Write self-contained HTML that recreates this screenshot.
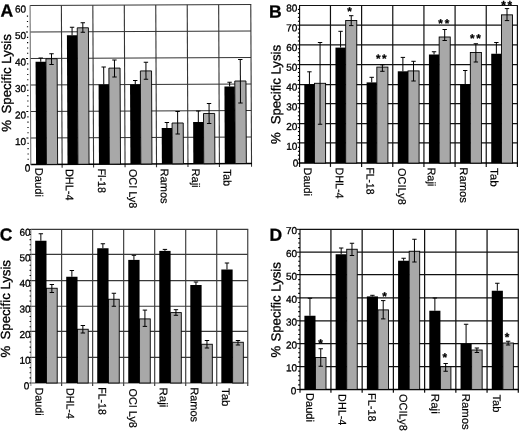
<!DOCTYPE html>
<html><head><meta charset="utf-8"><style>
html,body{margin:0;padding:0;background:#fff;width:520px;height:431px;overflow:hidden}
svg{display:block}
text{font-family:"Liberation Sans", Arial, Helvetica, sans-serif;text-rendering:geometricPrecision;stroke:#000;stroke-width:0.3px}
</style></head><body>
<svg width="520" height="431" viewBox="0 0 520 431">
<rect width="520" height="431" fill="#fff"/>
<g transform="rotate(-0.27 140 85)">
<g stroke="#333" stroke-width="1.1"><line x1="30.45" y1="137.5" x2="251.15" y2="137.5"/><line x1="30.45" y1="111.01" x2="251.15" y2="111.01"/><line x1="30.45" y1="84.51" x2="251.15" y2="84.51"/><line x1="30.45" y1="58.01" x2="251.15" y2="58.01"/><line x1="30.45" y1="31.52" x2="251.15" y2="31.52"/><line x1="61.76" y1="5.02" x2="61.76" y2="167.3"/><line x1="93.21" y1="5.02" x2="93.21" y2="167.3"/><line x1="124.67" y1="5.02" x2="124.67" y2="167.3"/><line x1="156.13" y1="5.02" x2="156.13" y2="167.3"/><line x1="187.59" y1="5.02" x2="187.59" y2="167.3"/><line x1="219.04" y1="5.02" x2="219.04" y2="167.3"/><line x1="30.45" y1="5.02" x2="251.65" y2="5.02"/><line x1="251.15" y1="5.02" x2="251.15" y2="167.3"/><line x1="30.45" y1="164" x2="251.65" y2="164" stroke="#000" stroke-width="1.5"/></g>
<line x1="30.45" y1="4.62" x2="30.45" y2="164.5" stroke="#666" stroke-width="1"/>
<g stroke="#000" stroke-width="1"><line x1="26.2" y1="164" x2="28.2" y2="164"/><line x1="26.2" y1="137.5" x2="28.2" y2="137.5"/><line x1="26.2" y1="111.01" x2="28.2" y2="111.01"/><line x1="26.2" y1="84.51" x2="28.2" y2="84.51"/><line x1="26.2" y1="58.01" x2="28.2" y2="58.01"/><line x1="26.2" y1="31.52" x2="28.2" y2="31.52"/></g>
<g stroke="#000" stroke-width="1.1"><line x1="27.2" y1="158.7" x2="28.4" y2="158.7"/><line x1="27.2" y1="153.4" x2="28.4" y2="153.4"/><line x1="27.2" y1="148.1" x2="28.4" y2="148.1"/><line x1="27.2" y1="142.8" x2="28.4" y2="142.8"/><line x1="27.2" y1="132.2" x2="28.4" y2="132.2"/><line x1="27.2" y1="126.9" x2="28.4" y2="126.9"/><line x1="27.2" y1="121.61" x2="28.4" y2="121.61"/><line x1="27.2" y1="116.31" x2="28.4" y2="116.31"/><line x1="27.2" y1="105.71" x2="28.4" y2="105.71"/><line x1="27.2" y1="100.41" x2="28.4" y2="100.41"/><line x1="27.2" y1="95.11" x2="28.4" y2="95.11"/><line x1="27.2" y1="89.81" x2="28.4" y2="89.81"/><line x1="27.2" y1="79.21" x2="28.4" y2="79.21"/><line x1="27.2" y1="73.91" x2="28.4" y2="73.91"/><line x1="27.2" y1="68.61" x2="28.4" y2="68.61"/><line x1="27.2" y1="63.31" x2="28.4" y2="63.31"/><line x1="27.2" y1="52.71" x2="28.4" y2="52.71"/><line x1="27.2" y1="47.41" x2="28.4" y2="47.41"/><line x1="27.2" y1="42.12" x2="28.4" y2="42.12"/><line x1="27.2" y1="36.82" x2="28.4" y2="36.82"/><line x1="27.2" y1="26.22" x2="28.4" y2="26.22"/><line x1="27.2" y1="20.92" x2="28.4" y2="20.92"/><line x1="27.2" y1="15.62" x2="28.4" y2="15.62"/></g>
<rect x="35.68" y="61.28" width="10.38" height="102.72" fill="#000"/><rect x="46.06" y="58.33" width="11.18" height="105.67" fill="#a8a8a8" stroke="#000" stroke-width="0.9"/><rect x="67.14" y="34.98" width="10.38" height="129.02" fill="#000"/><rect x="77.52" y="27.53" width="11.18" height="136.47" fill="#a8a8a8" stroke="#000" stroke-width="0.9"/><rect x="98.59" y="84.33" width="10.38" height="79.67" fill="#000"/><rect x="108.97" y="67.98" width="11.18" height="96.02" fill="#a8a8a8" stroke="#000" stroke-width="0.9"/><rect x="130.05" y="84.48" width="10.38" height="79.52" fill="#000"/><rect x="140.43" y="70.93" width="11.18" height="93.07" fill="#a8a8a8" stroke="#000" stroke-width="0.9"/><rect x="161.51" y="128.13" width="10.38" height="35.87" fill="#000"/><rect x="171.89" y="123.18" width="11.18" height="40.82" fill="#a8a8a8" stroke="#000" stroke-width="0.9"/><rect x="192.97" y="122.37" width="10.38" height="41.63" fill="#000"/><rect x="203.35" y="113.82" width="11.18" height="50.18" fill="#a8a8a8" stroke="#000" stroke-width="0.9"/><rect x="224.42" y="86.92" width="10.38" height="77.08" fill="#000"/><rect x="234.8" y="81.47" width="11.18" height="82.53" fill="#a8a8a8" stroke="#000" stroke-width="0.9"/>
<g stroke="#000" stroke-width="1"><line x1="40.87" y1="57.53" x2="40.87" y2="61.28"/><line x1="38.67" y1="57.53" x2="43.07" y2="57.53"/><line x1="51.65" y1="53.33" x2="51.65" y2="64.08"/><line x1="49.45" y1="53.33" x2="53.85" y2="53.33"/><line x1="49.45" y1="64.08" x2="53.85" y2="64.08"/><line x1="72.33" y1="26.98" x2="72.33" y2="34.98"/><line x1="70.13" y1="26.98" x2="74.53" y2="26.98"/><line x1="83.11" y1="22.53" x2="83.11" y2="32.03"/><line x1="80.91" y1="22.53" x2="85.31" y2="22.53"/><line x1="80.91" y1="32.03" x2="85.31" y2="32.03"/><line x1="103.78" y1="66.83" x2="103.78" y2="84.33"/><line x1="101.58" y1="66.83" x2="105.98" y2="66.83"/><line x1="114.56" y1="59.88" x2="114.56" y2="76.88"/><line x1="112.36" y1="59.88" x2="116.76" y2="59.88"/><line x1="112.36" y1="76.88" x2="116.76" y2="76.88"/><line x1="135.24" y1="80.48" x2="135.24" y2="84.48"/><line x1="133.04" y1="80.48" x2="137.44" y2="80.48"/><line x1="146.02" y1="62.23" x2="146.02" y2="79.33"/><line x1="143.82" y1="62.23" x2="148.22" y2="62.23"/><line x1="143.82" y1="79.33" x2="148.22" y2="79.33"/><line x1="166.7" y1="122.63" x2="166.7" y2="128.13"/><line x1="164.5" y1="122.63" x2="168.9" y2="122.63"/><line x1="177.48" y1="111.68" x2="177.48" y2="134.18"/><line x1="175.28" y1="111.68" x2="179.68" y2="111.68"/><line x1="175.28" y1="134.18" x2="179.68" y2="134.18"/><line x1="198.16" y1="111.27" x2="198.16" y2="122.37"/><line x1="195.96" y1="111.27" x2="200.36" y2="111.27"/><line x1="208.94" y1="103.92" x2="208.94" y2="123.92"/><line x1="206.74" y1="103.92" x2="211.14" y2="103.92"/><line x1="206.74" y1="123.92" x2="211.14" y2="123.92"/><line x1="229.61" y1="82.62" x2="229.61" y2="86.92"/><line x1="227.41" y1="82.62" x2="231.81" y2="82.62"/><line x1="240.39" y1="60.07" x2="240.39" y2="103.37"/><line x1="238.19" y1="60.07" x2="242.59" y2="60.07"/><line x1="238.19" y1="103.37" x2="242.59" y2="103.37"/></g>
</g>
<g stroke="#111" stroke-width="1.2"><line x1="299.6" y1="142.8" x2="517.4" y2="142.8"/><line x1="299.6" y1="123.7" x2="517.4" y2="123.7"/><line x1="299.6" y1="103.6" x2="517.4" y2="103.6"/><line x1="299.6" y1="84.6" x2="517.4" y2="84.6"/><line x1="299.6" y1="64.6" x2="517.4" y2="64.6"/><line x1="299.6" y1="44.9" x2="517.4" y2="44.9"/><line x1="299.6" y1="25.2" x2="517.4" y2="25.2"/><line x1="330.46" y1="5.5" x2="330.46" y2="166.9"/><line x1="361.61" y1="5.5" x2="361.61" y2="166.9"/><line x1="392.77" y1="5.5" x2="392.77" y2="166.9"/><line x1="423.93" y1="5.5" x2="423.93" y2="166.9"/><line x1="455.09" y1="5.5" x2="455.09" y2="166.9"/><line x1="486.24" y1="5.5" x2="486.24" y2="166.9"/><line x1="299.6" y1="5.5" x2="517.9" y2="5.5"/><line x1="517.4" y1="5.5" x2="517.4" y2="166.9"/><line x1="299.6" y1="163.1" x2="517.9" y2="163.1" stroke="#000" stroke-width="1.5"/></g>
<line x1="299.6" y1="5.1" x2="299.6" y2="166.9" stroke="#000" stroke-width="1.1"/>
<g stroke="#000" stroke-width="1"><line x1="297.3" y1="163.1" x2="299.5" y2="163.1"/><line x1="297.3" y1="142.8" x2="299.5" y2="142.8"/><line x1="297.3" y1="123.7" x2="299.5" y2="123.7"/><line x1="297.3" y1="103.6" x2="299.5" y2="103.6"/><line x1="297.3" y1="84.6" x2="299.5" y2="84.6"/><line x1="297.3" y1="64.6" x2="299.5" y2="64.6"/><line x1="297.3" y1="44.9" x2="299.5" y2="44.9"/><line x1="297.3" y1="25.2" x2="299.5" y2="25.2"/></g>
<g stroke="#000" stroke-width="1.1"><line x1="297.9" y1="159.16" x2="299.5" y2="159.16"/><line x1="297.9" y1="155.22" x2="299.5" y2="155.22"/><line x1="297.9" y1="151.28" x2="299.5" y2="151.28"/><line x1="297.9" y1="147.34" x2="299.5" y2="147.34"/><line x1="297.9" y1="139.46" x2="299.5" y2="139.46"/><line x1="297.9" y1="135.52" x2="299.5" y2="135.52"/><line x1="297.9" y1="131.58" x2="299.5" y2="131.58"/><line x1="297.9" y1="127.64" x2="299.5" y2="127.64"/><line x1="297.9" y1="119.76" x2="299.5" y2="119.76"/><line x1="297.9" y1="115.82" x2="299.5" y2="115.82"/><line x1="297.9" y1="111.88" x2="299.5" y2="111.88"/><line x1="297.9" y1="107.94" x2="299.5" y2="107.94"/><line x1="297.9" y1="100.06" x2="299.5" y2="100.06"/><line x1="297.9" y1="96.12" x2="299.5" y2="96.12"/><line x1="297.9" y1="92.18" x2="299.5" y2="92.18"/><line x1="297.9" y1="88.24" x2="299.5" y2="88.24"/><line x1="297.9" y1="80.36" x2="299.5" y2="80.36"/><line x1="297.9" y1="76.42" x2="299.5" y2="76.42"/><line x1="297.9" y1="72.48" x2="299.5" y2="72.48"/><line x1="297.9" y1="68.54" x2="299.5" y2="68.54"/><line x1="297.9" y1="60.66" x2="299.5" y2="60.66"/><line x1="297.9" y1="56.72" x2="299.5" y2="56.72"/><line x1="297.9" y1="52.78" x2="299.5" y2="52.78"/><line x1="297.9" y1="48.84" x2="299.5" y2="48.84"/><line x1="297.9" y1="40.96" x2="299.5" y2="40.96"/><line x1="297.9" y1="37.02" x2="299.5" y2="37.02"/><line x1="297.9" y1="33.08" x2="299.5" y2="33.08"/><line x1="297.9" y1="29.14" x2="299.5" y2="29.14"/><line x1="297.9" y1="21.26" x2="299.5" y2="21.26"/><line x1="297.9" y1="17.32" x2="299.5" y2="17.32"/><line x1="297.9" y1="13.38" x2="299.5" y2="13.38"/><line x1="297.9" y1="9.44" x2="299.5" y2="9.44"/></g>
<rect x="304.3" y="84.3" width="10.23" height="78.8" fill="#000"/><rect x="314.53" y="83.3" width="11.08" height="79.8" fill="#a8a8a8" stroke="#000" stroke-width="0.9"/><rect x="335.46" y="47.6" width="10.23" height="115.5" fill="#000"/><rect x="345.69" y="20.5" width="11.08" height="142.6" fill="#a8a8a8" stroke="#000" stroke-width="0.9"/><rect x="366.61" y="82.4" width="10.23" height="80.7" fill="#000"/><rect x="376.84" y="67.1" width="11.08" height="96" fill="#a8a8a8" stroke="#000" stroke-width="0.9"/><rect x="397.77" y="71.3" width="10.23" height="91.8" fill="#000"/><rect x="408" y="70.9" width="11.08" height="92.2" fill="#a8a8a8" stroke="#000" stroke-width="0.9"/><rect x="428.93" y="54.5" width="10.23" height="108.6" fill="#000"/><rect x="439.16" y="37" width="11.08" height="126.1" fill="#a8a8a8" stroke="#000" stroke-width="0.9"/><rect x="460.09" y="84.25" width="10.23" height="78.85" fill="#000"/><rect x="470.32" y="52.5" width="11.08" height="110.6" fill="#a8a8a8" stroke="#000" stroke-width="0.9"/><rect x="491.24" y="53.75" width="10.23" height="109.35" fill="#000"/><rect x="501.47" y="14.85" width="11.08" height="148.25" fill="#a8a8a8" stroke="#000" stroke-width="0.9"/>
<g stroke="#000" stroke-width="1"><line x1="309.42" y1="71.8" x2="309.42" y2="84.3"/><line x1="307.22" y1="71.8" x2="311.62" y2="71.8"/><line x1="320.07" y1="42.5" x2="320.07" y2="124.25"/><line x1="317.87" y1="42.5" x2="322.27" y2="42.5"/><line x1="317.87" y1="124.25" x2="322.27" y2="124.25"/><line x1="340.57" y1="31.3" x2="340.57" y2="47.6"/><line x1="338.37" y1="31.3" x2="342.77" y2="31.3"/><line x1="351.23" y1="15.7" x2="351.23" y2="25.6"/><line x1="349.03" y1="15.7" x2="353.43" y2="15.7"/><line x1="349.03" y1="25.6" x2="353.43" y2="25.6"/><line x1="371.73" y1="77.3" x2="371.73" y2="82.4"/><line x1="369.53" y1="77.3" x2="373.93" y2="77.3"/><line x1="382.38" y1="64.8" x2="382.38" y2="71.3"/><line x1="380.18" y1="64.8" x2="384.58" y2="64.8"/><line x1="380.18" y1="71.3" x2="384.58" y2="71.3"/><line x1="402.89" y1="57.4" x2="402.89" y2="71.3"/><line x1="400.69" y1="57.4" x2="405.09" y2="57.4"/><line x1="413.54" y1="61.3" x2="413.54" y2="81"/><line x1="411.34" y1="61.3" x2="415.74" y2="61.3"/><line x1="411.34" y1="81" x2="415.74" y2="81"/><line x1="434.04" y1="51.75" x2="434.04" y2="54.5"/><line x1="431.84" y1="51.75" x2="436.24" y2="51.75"/><line x1="444.7" y1="29.5" x2="444.7" y2="40.5"/><line x1="442.5" y1="29.5" x2="446.9" y2="29.5"/><line x1="442.5" y1="40.5" x2="446.9" y2="40.5"/><line x1="465.2" y1="70.5" x2="465.2" y2="84.25"/><line x1="463" y1="70.5" x2="467.4" y2="70.5"/><line x1="475.86" y1="43.75" x2="475.86" y2="62"/><line x1="473.66" y1="43.75" x2="478.06" y2="43.75"/><line x1="473.66" y1="62" x2="478.06" y2="62"/><line x1="496.36" y1="42.5" x2="496.36" y2="53.75"/><line x1="494.16" y1="42.5" x2="498.56" y2="42.5"/><line x1="507.01" y1="8.6" x2="507.01" y2="20.6"/><line x1="504.81" y1="8.6" x2="509.21" y2="8.6"/><line x1="504.81" y1="20.6" x2="509.21" y2="20.6"/></g>
<g stroke="#3a3a3a" stroke-width="1.15"><line x1="30.9" y1="357.4" x2="247.75" y2="357.4"/><line x1="30.9" y1="331.3" x2="247.75" y2="331.3"/><line x1="30.9" y1="306.2" x2="247.75" y2="306.2"/><line x1="30.9" y1="280.6" x2="247.75" y2="280.6"/><line x1="30.9" y1="254.4" x2="247.75" y2="254.4"/><line x1="61.62" y1="229.4" x2="61.62" y2="386"/><line x1="92.64" y1="229.4" x2="92.64" y2="386"/><line x1="123.66" y1="229.4" x2="123.66" y2="386"/><line x1="154.69" y1="229.4" x2="154.69" y2="386"/><line x1="185.71" y1="229.4" x2="185.71" y2="386"/><line x1="216.73" y1="229.4" x2="216.73" y2="386"/><line x1="30.9" y1="229.4" x2="248.25" y2="229.4"/><line x1="247.75" y1="229.4" x2="247.75" y2="386"/><line x1="30.9" y1="383" x2="248.25" y2="383" stroke="#444" stroke-width="1.2"/></g>
<line x1="30.9" y1="229" x2="30.9" y2="386" stroke="#888" stroke-width="1"/>
<g stroke="#000" stroke-width="1"><line x1="29.4" y1="383" x2="30.9" y2="383"/><line x1="29.4" y1="357.4" x2="30.9" y2="357.4"/><line x1="29.4" y1="331.3" x2="30.9" y2="331.3"/><line x1="29.4" y1="306.2" x2="30.9" y2="306.2"/><line x1="29.4" y1="280.6" x2="30.9" y2="280.6"/><line x1="29.4" y1="254.4" x2="30.9" y2="254.4"/><line x1="29.4" y1="229.4" x2="30.9" y2="229.4"/></g>
<g stroke="#000" stroke-width="1.1"><line x1="29.6" y1="377.88" x2="30.9" y2="377.88"/><line x1="29.6" y1="372.76" x2="30.9" y2="372.76"/><line x1="29.6" y1="367.64" x2="30.9" y2="367.64"/><line x1="29.6" y1="362.52" x2="30.9" y2="362.52"/><line x1="29.6" y1="352.28" x2="30.9" y2="352.28"/><line x1="29.6" y1="347.16" x2="30.9" y2="347.16"/><line x1="29.6" y1="342.04" x2="30.9" y2="342.04"/><line x1="29.6" y1="336.92" x2="30.9" y2="336.92"/><line x1="29.6" y1="326.68" x2="30.9" y2="326.68"/><line x1="29.6" y1="321.56" x2="30.9" y2="321.56"/><line x1="29.6" y1="316.44" x2="30.9" y2="316.44"/><line x1="29.6" y1="311.32" x2="30.9" y2="311.32"/><line x1="29.6" y1="301.08" x2="30.9" y2="301.08"/><line x1="29.6" y1="295.96" x2="30.9" y2="295.96"/><line x1="29.6" y1="290.84" x2="30.9" y2="290.84"/><line x1="29.6" y1="285.72" x2="30.9" y2="285.72"/><line x1="29.6" y1="275.48" x2="30.9" y2="275.48"/><line x1="29.6" y1="270.36" x2="30.9" y2="270.36"/><line x1="29.6" y1="265.24" x2="30.9" y2="265.24"/><line x1="29.6" y1="260.12" x2="30.9" y2="260.12"/><line x1="29.6" y1="249.88" x2="30.9" y2="249.88"/><line x1="29.6" y1="244.76" x2="30.9" y2="244.76"/><line x1="29.6" y1="239.64" x2="30.9" y2="239.64"/><line x1="29.6" y1="234.52" x2="30.9" y2="234.52"/></g>
<rect x="35.2" y="240.75" width="11.3" height="142.25" fill="#000"/><rect x="46.5" y="288.25" width="10.7" height="94.75" fill="#a8a8a8" stroke="#000" stroke-width="0.9"/><rect x="66.22" y="276.75" width="11.3" height="106.25" fill="#000"/><rect x="77.52" y="329.25" width="10.7" height="53.75" fill="#a8a8a8" stroke="#000" stroke-width="0.9"/><rect x="97.24" y="248.25" width="11.3" height="134.75" fill="#000"/><rect x="108.54" y="299.25" width="10.7" height="83.75" fill="#a8a8a8" stroke="#000" stroke-width="0.9"/><rect x="128.26" y="259.9" width="11.3" height="123.1" fill="#000"/><rect x="139.56" y="318.9" width="10.7" height="64.1" fill="#a8a8a8" stroke="#000" stroke-width="0.9"/><rect x="159.29" y="250.9" width="11.3" height="132.1" fill="#000"/><rect x="170.59" y="312.6" width="10.7" height="70.4" fill="#a8a8a8" stroke="#000" stroke-width="0.9"/><rect x="190.31" y="285" width="11.3" height="98" fill="#000"/><rect x="201.61" y="344.25" width="10.7" height="38.75" fill="#a8a8a8" stroke="#000" stroke-width="0.9"/><rect x="221.33" y="269.5" width="11.3" height="113.5" fill="#000"/><rect x="232.63" y="342.25" width="10.7" height="40.75" fill="#a8a8a8" stroke="#000" stroke-width="0.9"/>
<g stroke="#000" stroke-width="1"><line x1="40.85" y1="233.75" x2="40.85" y2="240.75"/><line x1="38.65" y1="233.75" x2="43.05" y2="233.75"/><line x1="51.85" y1="284.5" x2="51.85" y2="292.5"/><line x1="49.65" y1="284.5" x2="54.05" y2="284.5"/><line x1="49.65" y1="292.5" x2="54.05" y2="292.5"/><line x1="71.87" y1="270.5" x2="71.87" y2="276.75"/><line x1="69.67" y1="270.5" x2="74.07" y2="270.5"/><line x1="82.87" y1="325.5" x2="82.87" y2="333"/><line x1="80.67" y1="325.5" x2="85.07" y2="325.5"/><line x1="80.67" y1="333" x2="85.07" y2="333"/><line x1="102.89" y1="243.75" x2="102.89" y2="248.25"/><line x1="100.69" y1="243.75" x2="105.09" y2="243.75"/><line x1="113.89" y1="293.25" x2="113.89" y2="306.25"/><line x1="111.69" y1="293.25" x2="116.09" y2="293.25"/><line x1="111.69" y1="306.25" x2="116.09" y2="306.25"/><line x1="133.91" y1="255.3" x2="133.91" y2="259.9"/><line x1="131.71" y1="255.3" x2="136.11" y2="255.3"/><line x1="144.91" y1="310.1" x2="144.91" y2="326.4"/><line x1="142.71" y1="310.1" x2="147.11" y2="310.1"/><line x1="142.71" y1="326.4" x2="147.11" y2="326.4"/><line x1="164.94" y1="249.4" x2="164.94" y2="250.9"/><line x1="162.74" y1="249.4" x2="167.14" y2="249.4"/><line x1="175.94" y1="309.7" x2="175.94" y2="315.3"/><line x1="173.74" y1="309.7" x2="178.14" y2="309.7"/><line x1="173.74" y1="315.3" x2="178.14" y2="315.3"/><line x1="195.96" y1="282" x2="195.96" y2="285"/><line x1="193.76" y1="282" x2="198.16" y2="282"/><line x1="206.96" y1="340.5" x2="206.96" y2="348"/><line x1="204.76" y1="340.5" x2="209.16" y2="340.5"/><line x1="204.76" y1="348" x2="209.16" y2="348"/><line x1="226.98" y1="263" x2="226.98" y2="269.5"/><line x1="224.78" y1="263" x2="229.18" y2="263"/><line x1="237.98" y1="340.5" x2="237.98" y2="345"/><line x1="235.78" y1="340.5" x2="240.18" y2="340.5"/><line x1="235.78" y1="345" x2="240.18" y2="345"/></g>
<g stroke="#111" stroke-width="1.25"><line x1="300" y1="366.53" x2="518.3" y2="366.53"/><line x1="300" y1="343.66" x2="518.3" y2="343.66"/><line x1="300" y1="320.79" x2="518.3" y2="320.79"/><line x1="300" y1="297.91" x2="518.3" y2="297.91"/><line x1="300" y1="274.6" x2="518.3" y2="274.6"/><line x1="300" y1="252.17" x2="518.3" y2="252.17"/><line x1="330.93" y1="229.3" x2="330.93" y2="392.7"/><line x1="362.16" y1="229.3" x2="362.16" y2="392.7"/><line x1="393.39" y1="229.3" x2="393.39" y2="392.7"/><line x1="424.61" y1="229.3" x2="424.61" y2="392.7"/><line x1="455.84" y1="229.3" x2="455.84" y2="392.7"/><line x1="487.07" y1="229.3" x2="487.07" y2="392.7"/><line x1="300" y1="229.3" x2="518.8" y2="229.3"/><line x1="518.3" y1="229.3" x2="518.3" y2="392.7"/><line x1="300" y1="389.4" x2="518.8" y2="389.4" stroke="#000" stroke-width="1.5"/></g>
<line x1="300" y1="228.9" x2="300" y2="392.7" stroke="#000" stroke-width="1.1"/>
<g stroke="#000" stroke-width="1"><line x1="296.6" y1="389.4" x2="300" y2="389.4"/><line x1="296.6" y1="366.53" x2="300" y2="366.53"/><line x1="296.6" y1="343.66" x2="300" y2="343.66"/><line x1="296.6" y1="320.79" x2="300" y2="320.79"/><line x1="296.6" y1="297.91" x2="300" y2="297.91"/><line x1="296.6" y1="274.6" x2="300" y2="274.6"/><line x1="296.6" y1="252.17" x2="300" y2="252.17"/><line x1="296.6" y1="229.3" x2="300" y2="229.3"/></g>
<g stroke="#000" stroke-width="1.1"><line x1="298.2" y1="384.83" x2="300" y2="384.83"/><line x1="298.2" y1="380.25" x2="300" y2="380.25"/><line x1="298.2" y1="375.68" x2="300" y2="375.68"/><line x1="298.2" y1="371.1" x2="300" y2="371.1"/><line x1="298.2" y1="361.95" x2="300" y2="361.95"/><line x1="298.2" y1="357.38" x2="300" y2="357.38"/><line x1="298.2" y1="352.81" x2="300" y2="352.81"/><line x1="298.2" y1="348.23" x2="300" y2="348.23"/><line x1="298.2" y1="339.08" x2="300" y2="339.08"/><line x1="298.2" y1="334.51" x2="300" y2="334.51"/><line x1="298.2" y1="329.93" x2="300" y2="329.93"/><line x1="298.2" y1="325.36" x2="300" y2="325.36"/><line x1="298.2" y1="316.21" x2="300" y2="316.21"/><line x1="298.2" y1="311.64" x2="300" y2="311.64"/><line x1="298.2" y1="307.06" x2="300" y2="307.06"/><line x1="298.2" y1="302.49" x2="300" y2="302.49"/><line x1="298.2" y1="293.34" x2="300" y2="293.34"/><line x1="298.2" y1="288.77" x2="300" y2="288.77"/><line x1="298.2" y1="284.19" x2="300" y2="284.19"/><line x1="298.2" y1="279.62" x2="300" y2="279.62"/><line x1="298.2" y1="270.47" x2="300" y2="270.47"/><line x1="298.2" y1="265.89" x2="300" y2="265.89"/><line x1="298.2" y1="261.32" x2="300" y2="261.32"/><line x1="298.2" y1="256.75" x2="300" y2="256.75"/><line x1="298.2" y1="247.6" x2="300" y2="247.6"/><line x1="298.2" y1="243.02" x2="300" y2="243.02"/><line x1="298.2" y1="238.45" x2="300" y2="238.45"/><line x1="298.2" y1="233.87" x2="300" y2="233.87"/></g>
<rect x="304.4" y="315.75" width="11.1" height="73.65" fill="#000"/><rect x="315.5" y="357.5" width="10.5" height="31.9" fill="#a8a8a8" stroke="#000" stroke-width="0.9"/><rect x="335.63" y="254.25" width="11.1" height="135.15" fill="#000"/><rect x="346.73" y="249.25" width="10.5" height="140.15" fill="#a8a8a8" stroke="#000" stroke-width="0.9"/><rect x="366.86" y="296.4" width="11.1" height="93" fill="#000"/><rect x="377.96" y="309.9" width="10.5" height="79.5" fill="#a8a8a8" stroke="#000" stroke-width="0.9"/><rect x="398.09" y="260.75" width="11.1" height="128.65" fill="#000"/><rect x="409.19" y="251.25" width="10.5" height="138.15" fill="#a8a8a8" stroke="#000" stroke-width="0.9"/><rect x="429.31" y="310.75" width="11.1" height="78.65" fill="#000"/><rect x="440.41" y="366.75" width="10.5" height="22.65" fill="#a8a8a8" stroke="#000" stroke-width="0.9"/><rect x="460.54" y="343.75" width="11.1" height="45.65" fill="#000"/><rect x="471.64" y="350" width="10.5" height="39.4" fill="#a8a8a8" stroke="#000" stroke-width="0.9"/><rect x="491.77" y="290.75" width="11.1" height="98.65" fill="#000"/><rect x="502.87" y="343" width="10.5" height="46.4" fill="#a8a8a8" stroke="#000" stroke-width="0.9"/>
<g stroke="#000" stroke-width="1"><line x1="309.95" y1="298.25" x2="309.95" y2="315.75"/><line x1="307.75" y1="298.25" x2="312.15" y2="298.25"/><line x1="320.75" y1="348.75" x2="320.75" y2="366.25"/><line x1="318.55" y1="348.75" x2="322.95" y2="348.75"/><line x1="318.55" y1="366.25" x2="322.95" y2="366.25"/><line x1="341.18" y1="248" x2="341.18" y2="254.25"/><line x1="338.98" y1="248" x2="343.38" y2="248"/><line x1="351.98" y1="243.25" x2="351.98" y2="255.5"/><line x1="349.78" y1="243.25" x2="354.18" y2="243.25"/><line x1="349.78" y1="255.5" x2="354.18" y2="255.5"/><line x1="372.41" y1="295.3" x2="372.41" y2="296.4"/><line x1="370.21" y1="295.3" x2="374.61" y2="295.3"/><line x1="383.21" y1="300.6" x2="383.21" y2="318.9"/><line x1="381.01" y1="300.6" x2="385.41" y2="300.6"/><line x1="381.01" y1="318.9" x2="385.41" y2="318.9"/><line x1="403.64" y1="258.25" x2="403.64" y2="260.75"/><line x1="401.44" y1="258.25" x2="405.84" y2="258.25"/><line x1="414.44" y1="239.25" x2="414.44" y2="262"/><line x1="412.24" y1="239.25" x2="416.64" y2="239.25"/><line x1="412.24" y1="262" x2="416.64" y2="262"/><line x1="434.86" y1="298" x2="434.86" y2="310.75"/><line x1="432.66" y1="298" x2="437.06" y2="298"/><line x1="445.66" y1="363.5" x2="445.66" y2="371.25"/><line x1="443.46" y1="363.5" x2="447.86" y2="363.5"/><line x1="443.46" y1="371.25" x2="447.86" y2="371.25"/><line x1="466.09" y1="324.25" x2="466.09" y2="343.75"/><line x1="463.89" y1="324.25" x2="468.29" y2="324.25"/><line x1="476.89" y1="348" x2="476.89" y2="352.5"/><line x1="474.69" y1="348" x2="479.09" y2="348"/><line x1="474.69" y1="352.5" x2="479.09" y2="352.5"/><line x1="497.32" y1="283.25" x2="497.32" y2="290.75"/><line x1="495.12" y1="283.25" x2="499.52" y2="283.25"/><line x1="508.12" y1="341.25" x2="508.12" y2="345"/><line x1="505.92" y1="341.25" x2="510.32" y2="341.25"/><line x1="505.92" y1="345" x2="510.32" y2="345"/></g>
<text transform="translate(14.88,144.95) rotate(0.05)" font-size="10" font-weight="normal" fill="#000">10</text>
<text transform="translate(14.88,118.44) rotate(0.05)" font-size="10" font-weight="normal" fill="#000">20</text>
<text transform="translate(14.88,91.93) rotate(0.05)" font-size="10" font-weight="normal" fill="#000">30</text>
<text transform="translate(14.88,65.42) rotate(0.05)" font-size="10" font-weight="normal" fill="#000">40</text>
<text transform="translate(14.88,38.91) rotate(0.05)" font-size="10" font-weight="normal" fill="#000">50</text>
<text transform="translate(14.88,12.4) rotate(0.05)" font-size="10" font-weight="normal" fill="#000">60</text>
<text transform="translate(24.76,171.59) rotate(0.05)" font-size="10" font-weight="normal" fill="#000">0</text>
<text transform="translate(286.17,149.84) rotate(0.05)" font-size="10" font-weight="normal" fill="#000">10</text>
<text transform="translate(286.17,130.09) rotate(0.05)" font-size="10" font-weight="normal" fill="#000">20</text>
<text transform="translate(286.17,110.34) rotate(0.05)" font-size="10" font-weight="normal" fill="#000">30</text>
<text transform="translate(286.17,90.59) rotate(0.05)" font-size="10" font-weight="normal" fill="#000">40</text>
<text transform="translate(286.17,70.84) rotate(0.05)" font-size="10" font-weight="normal" fill="#000">50</text>
<text transform="translate(286.17,51.09) rotate(0.05)" font-size="10" font-weight="normal" fill="#000">60</text>
<text transform="translate(286.17,31.34) rotate(0.05)" font-size="10" font-weight="normal" fill="#000">70</text>
<text transform="translate(286.18,11.59) rotate(0.05)" font-size="10" font-weight="normal" fill="#000">80</text>
<text transform="translate(292.86,166.44) rotate(0.05)" font-size="10" font-weight="normal" fill="#000">0</text>
<text transform="translate(19.47,363.64) rotate(0.05)" font-size="10" font-weight="normal" fill="#000">10</text>
<text transform="translate(19.47,338.04) rotate(0.05)" font-size="10" font-weight="normal" fill="#000">20</text>
<text transform="translate(19.47,312.44) rotate(0.05)" font-size="10" font-weight="normal" fill="#000">30</text>
<text transform="translate(19.48,286.84) rotate(0.05)" font-size="10" font-weight="normal" fill="#000">40</text>
<text transform="translate(19.48,261.24) rotate(0.05)" font-size="10" font-weight="normal" fill="#000">50</text>
<text transform="translate(19.47,235.64) rotate(0.05)" font-size="10" font-weight="normal" fill="#000">60</text>
<text transform="translate(23.71,389.29) rotate(0.05)" font-size="10" font-weight="normal" fill="#000">0</text>
<text transform="translate(285.88,371.27) rotate(0.05)" font-size="10" font-weight="normal" fill="#000">10</text>
<text transform="translate(285.88,348.39) rotate(0.05)" font-size="10" font-weight="normal" fill="#000">20</text>
<text transform="translate(285.88,325.52) rotate(0.05)" font-size="10" font-weight="normal" fill="#000">30</text>
<text transform="translate(285.88,302.65) rotate(0.05)" font-size="10" font-weight="normal" fill="#000">40</text>
<text transform="translate(285.88,279.78) rotate(0.05)" font-size="10" font-weight="normal" fill="#000">50</text>
<text transform="translate(285.88,256.91) rotate(0.05)" font-size="10" font-weight="normal" fill="#000">60</text>
<text transform="translate(285.88,234.04) rotate(0.05)" font-size="10" font-weight="normal" fill="#000">70</text>
<text transform="translate(290.76,394.24) rotate(0.05)" font-size="10" font-weight="normal" fill="#000">0</text>
<text transform="translate(0.5,16.62) rotate(0.05)" font-size="17.5" font-weight="bold" fill="#000">A</text>
<text transform="translate(269.08,17.52) rotate(0.05)" font-size="17.5" font-weight="bold" fill="#000">B</text>
<text transform="translate(-0.18,240.52) rotate(0.05)" font-size="17.5" font-weight="bold" fill="#000">C</text>
<text transform="translate(269.41,240.67) rotate(0.05)" font-size="17.5" font-weight="bold" fill="#000">D</text>
<text transform="translate(10.92,113.5) rotate(-89.95)" font-size="13.2" font-weight="normal" fill="#000">Specific Lysis</text>
<text transform="translate(10.9,131.81) rotate(-89.95)" font-size="13.2" font-weight="normal" fill="#000">%</text>
<text transform="translate(280.37,124.35) rotate(-89.95)" font-size="13.2" font-weight="normal" fill="#000">Specific Lysis</text>
<text transform="translate(280.25,144.11) rotate(-89.95)" font-size="13.2" font-weight="normal" fill="#000">%</text>
<text transform="translate(10.07,339.45) rotate(-89.95)" font-size="13.2" font-weight="normal" fill="#000">Specific Lysis</text>
<text transform="translate(10.05,357.46) rotate(-89.95)" font-size="13.2" font-weight="normal" fill="#000">%</text>
<text transform="translate(280.52,341.55) rotate(-89.95)" font-size="13.2" font-weight="normal" fill="#000">Specific Lysis</text>
<text transform="translate(280.2,357.46) rotate(-89.95)" font-size="13.2" font-weight="normal" fill="#000">%</text>
<text transform="translate(35.2,167.68) rotate(90.05) scale(1.019,1)" font-size="11" style="stroke-width:0.2px">Daudi</text>
<text transform="translate(65.8,168.9) rotate(90.05) scale(0.995,1)" font-size="11" style="stroke-width:0.2px">DHL-4</text>
<text transform="translate(97.9,168.51) rotate(90.05) scale(0.976,1)" font-size="11" style="stroke-width:0.2px">Fl-18</text>
<text transform="translate(129.3,168.88) rotate(90.05) scale(0.986,1)" font-size="11" style="stroke-width:0.2px">OCI Ly8</text>
<text transform="translate(160.8,168.48) rotate(90.05) scale(1.010,1)" font-size="11" style="stroke-width:0.2px">Ramos</text>
<text transform="translate(191.9,168.49) rotate(90.05) scale(1.006,1)" font-size="11" style="stroke-width:0.2px">Raji</text>
<text transform="translate(223.5,169.17) rotate(90.05) scale(0.946,1)" font-size="11" style="stroke-width:0.2px">Tab</text>
<text transform="translate(304,167.5) rotate(90.05) scale(0.993,1)" font-size="11" style="stroke-width:0.2px">Daudi</text>
<text transform="translate(335.8,167.51) rotate(90.05) scale(0.975,1)" font-size="11" style="stroke-width:0.2px">DHL-4</text>
<text transform="translate(366.5,167.45) rotate(90.05) scale(0.940,1)" font-size="11" style="stroke-width:0.2px">FL-18</text>
<text transform="translate(398.3,168.08) rotate(90.05) scale(0.995,1)" font-size="11" style="stroke-width:0.2px">OCILy8</text>
<text transform="translate(427.7,167.4) rotate(90.05) scale(0.994,1)" font-size="11" style="stroke-width:0.2px">Raji</text>
<text transform="translate(460,167.37) rotate(90.05) scale(1.019,1)" font-size="11" style="stroke-width:0.2px">Ramos</text>
<text transform="translate(490.5,168.04) rotate(90.05) scale(1.057,1)" font-size="11" style="stroke-width:0.2px">Tab</text>
<text transform="translate(35.4,387.41) rotate(90.05) scale(0.978,1)" font-size="11" style="stroke-width:0.2px">Daudi</text>
<text transform="translate(66.6,388.02) rotate(90.05) scale(0.969,1)" font-size="11" style="stroke-width:0.2px">DHL-4</text>
<text transform="translate(98.5,387.33) rotate(90.05) scale(0.955,1)" font-size="11" style="stroke-width:0.2px">FL-18</text>
<text transform="translate(129.2,388.48) rotate(90.05) scale(0.986,1)" font-size="11" style="stroke-width:0.2px">OCI Ly8</text>
<text transform="translate(159.7,387.55) rotate(90.05) scale(1.046,1)" font-size="11" style="stroke-width:0.2px">Raji</text>
<text transform="translate(190.8,387.29) rotate(90.05) scale(0.999,1)" font-size="11" style="stroke-width:0.2px">Ramos</text>
<text transform="translate(222,387.94) rotate(90.05) scale(1.034,1)" font-size="11" style="stroke-width:0.2px">Tab</text>
<text transform="translate(306.2,393.09) rotate(90.05) scale(1.004,1)" font-size="11" style="stroke-width:0.2px">Daudi</text>
<text transform="translate(338.4,394.11) rotate(90.05) scale(0.979,1)" font-size="11" style="stroke-width:0.2px">DHL-4</text>
<text transform="translate(368.3,393.1) rotate(90.05) scale(0.995,1)" font-size="11" style="stroke-width:0.2px">FL-18</text>
<text transform="translate(399.6,394.08) rotate(90.05) scale(0.998,1)" font-size="11" style="stroke-width:0.2px">OCILy8</text>
<text transform="translate(431.5,393.74) rotate(90.05) scale(1.058,1)" font-size="11" style="stroke-width:0.2px">Raji</text>
<text transform="translate(462.3,393.76) rotate(90.05) scale(1.031,1)" font-size="11" style="stroke-width:0.2px">Ramos</text>
<text transform="translate(493.1,394.45) rotate(90.05) scale(1.016,1)" font-size="11" style="stroke-width:0.2px">Tab</text>
<text transform="translate(347.27,15.16) rotate(0.05)" font-size="11.7" font-weight="bold" fill="#000">*</text>
<text transform="translate(375.92,62.46) rotate(0.05)" font-size="11.7" font-weight="bold" fill="#000">*</text>
<text transform="translate(382.12,62.46) rotate(0.05)" font-size="11.7" font-weight="bold" fill="#000">*</text>
<text transform="translate(438.22,27.26) rotate(0.05)" font-size="11.7" font-weight="bold" fill="#000">*</text>
<text transform="translate(444.72,27.26) rotate(0.05)" font-size="11.7" font-weight="bold" fill="#000">*</text>
<text transform="translate(470.07,42.21) rotate(0.05)" font-size="11.7" font-weight="bold" fill="#000">*</text>
<text transform="translate(476.32,42.21) rotate(0.05)" font-size="11.7" font-weight="bold" fill="#000">*</text>
<text transform="translate(501.22,9.01) rotate(0.05)" font-size="11.7" font-weight="bold" fill="#000">*</text>
<text transform="translate(507.57,9.01) rotate(0.05)" font-size="11.7" font-weight="bold" fill="#000">*</text>
<text transform="translate(318.17,347.26) rotate(0.05)" font-size="11.7" font-weight="bold" fill="#000">*</text>
<text transform="translate(382.17,300.16) rotate(0.05)" font-size="11.7" font-weight="bold" fill="#000">*</text>
<text transform="translate(442.57,361.31) rotate(0.05)" font-size="11.7" font-weight="bold" fill="#000">*</text>
<text transform="translate(504.77,341.06) rotate(0.05)" font-size="11.7" font-weight="bold" fill="#000">*</text>
</svg>
</body></html>
